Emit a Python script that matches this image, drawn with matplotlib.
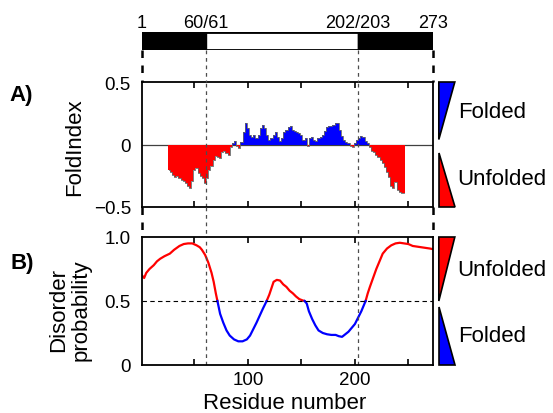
import numpy as np
import matplotlib
matplotlib.use("Agg")
import matplotlib.pyplot as plt
from matplotlib.patches import Polygon, Rectangle
from matplotlib.lines import Line2D
from matplotlib.transforms import blended_transform_factory

plt.rcParams['font.family'] = ['Liberation Sans', 'DejaVu Sans']

# domain boundaries (top bar)
domain_edges = [1, 60.5, 202.5, 273]
domain_labels = ["1", "60/61", "202/203", "273"]
domain_colors = ["black", "white", "black"]

# FoldIndex, every 2nd residue starting at residue 26
fold_start = 26
fold_vals = [
    -0.20, -0.22, -0.24, -0.26, -0.25, -0.27, -0.28, -0.29, -0.31, -0.33,
    -0.35, -0.29, -0.20, -0.19, -0.23, -0.25, -0.27, -0.31, -0.27, -0.20,
    -0.17, -0.12, -0.09, -0.10, -0.11, -0.06, -0.05, -0.07, -0.08, -0.02,
    0.01, 0.03, -0.01, -0.03, 0.02, 0.10, 0.17, 0.13, 0.08, 0.06,
    0.08, 0.05, 0.08, 0.13, 0.16, 0.13, 0.08, 0.04, 0.05, 0.08,
    0.10, 0.06, 0.03, 0.05, 0.10, 0.12, 0.14, 0.15, 0.12, 0.11,
    0.10, 0.09, 0.08, 0.04, 0.05, -0.01, 0.05, 0.06, 0.04, 0.03,
    0.05, 0.06, 0.08, 0.11, 0.14, 0.15, 0.15, 0.16, 0.17, 0.17,
    0.12, 0.07, 0.04, 0.02, 0.01, -0.01, -0.02, 0.01, 0.04, 0.05,
    0.07, 0.06, 0.03, 0.01, -0.02, -0.05, -0.06, -0.08, -0.10, -0.12,
    -0.15, -0.18, -0.22, -0.26, -0.33, -0.35, -0.30, -0.36, -0.38, -0.39,
    -0.39,
]

# disorder probability
dis_res = [1, 3, 5, 8, 12, 15, 18, 22, 27, 31, 36, 40, 44, 48, 52, 55, 57, 60,
           63, 66, 68, 70, 71.5, 74, 77, 80, 83, 87, 91, 95, 99, 102, 105, 108,
           111, 114, 117.5, 120, 122, 124, 127, 130, 133, 136, 139, 142, 145,
           148, 151, 153, 155, 157, 160, 163, 166, 170, 174, 178, 182, 185, 188,
           191, 194, 197, 200, 203, 206, 208, 210, 212, 214, 217, 220, 223, 226,
           230, 234, 238, 242, 246, 250, 254, 258, 262, 266, 270, 273]
dis_vals = [0.70, 0.68, 0.72, 0.75, 0.78, 0.81, 0.83, 0.85, 0.87, 0.90, 0.93,
            0.945, 0.95, 0.95, 0.935, 0.92, 0.90, 0.86, 0.80, 0.72, 0.65, 0.56,
            0.50, 0.40, 0.33, 0.27, 0.23, 0.20, 0.185, 0.185, 0.20, 0.23, 0.28,
            0.33, 0.385, 0.44, 0.50, 0.55, 0.60, 0.65, 0.665, 0.66, 0.63, 0.61,
            0.58, 0.56, 0.535, 0.515, 0.505, 0.50, 0.48, 0.42, 0.36, 0.31, 0.27,
            0.25, 0.24, 0.235, 0.235, 0.225, 0.22, 0.24, 0.26, 0.29, 0.32, 0.37,
            0.42, 0.46, 0.50, 0.56, 0.61, 0.68, 0.75, 0.81, 0.87, 0.91, 0.935,
            0.95, 0.955, 0.95, 0.945, 0.93, 0.925, 0.92, 0.915, 0.91, 0.905]

RED = "#ff0000"
BLUE = "#0000ff"

fig = plt.figure(figsize=(5.53, 4.14), dpi=100)
W, H = 553.0, 414.0
L, R = 142 / W, 433 / W

axbar = fig.add_axes([L, 1 - 51 / H, R - L, 18 / H])
axA = fig.add_axes([L, 1 - 208 / H, R - L, 125 / H])
axB = fig.add_axes([L, 1 - 366 / H, R - L, 128 / H])

xlim = (1, 273)

# top domain bar
for i, c in enumerate(domain_colors):
    axbar.add_patch(Rectangle((domain_edges[i], 0), domain_edges[i + 1] - domain_edges[i], 1,
                              facecolor=c, edgecolor="black", lw=1.0))
axbar.add_patch(Rectangle((domain_edges[0], 0), domain_edges[-1] - domain_edges[0], 1,
                          facecolor="none", edgecolor="black", lw=2.0))
axbar.set_xlim(xlim)
axbar.set_ylim(0, 1)
axbar.axis("off")
for x, lab in zip(domain_edges, domain_labels):
    axbar.text(x, 1.55, lab, ha="center", va="center", fontsize=13)

# panel A
fold_vals = np.array(fold_vals)
fold_res = fold_start + 2 * np.arange(len(fold_vals))
colors = [RED if v < 0 else BLUE for v in fold_vals]
axA.bar(fold_res, fold_vals, width=2, color=colors, linewidth=0)
axA.step(fold_res, fold_vals, where="mid", color="0.4", lw=0.6)
axA.axhline(0, color="0.25", lw=0.9, zorder=0.5)
axA.set_ylim(-0.5, 0.5)
axA.set_yticks([-0.5, 0, 0.5])
axA.set_yticklabels(["\u22120.5", "0", "0.5"])
axA.set_xticklabels([])

# panel B
dis_res = np.array(dis_res)
dis_vals = np.array(dis_vals)
axB.plot(dis_res, np.ma.masked_where(dis_vals < 0.5, dis_vals), color=RED, lw=1.6)
axB.plot(dis_res, np.ma.masked_where(dis_vals > 0.5, dis_vals), color=BLUE, lw=1.6)
axB.axhline(0.5, color="black", lw=0.8, ls=(0, (4, 3)))
axB.set_ylim(0, 1)
axB.set_yticks([0, 0.5, 1.0])
axB.set_yticklabels(["0", "0.5", "1.0"])
axB.set_xticks([50, 100, 150, 200, 250])
axB.set_xticklabels(["", "100", "", "200", ""])

for ax in (axA, axB):
    ax.set_xlim(xlim)
    ax.set_xticks([50, 100, 150, 200, 250])
    ax.tick_params(axis="x", direction="in", top=True, length=4, width=1.2,
                   labelsize=13.5, pad=4)
    ax.tick_params(axis="y", length=0, labelsize=13.5, pad=8)
    for sp in ax.spines.values():
        sp.set_linewidth(1.3)
    for x in (60.5, 202.5):
        ax.axvline(x, color="0.3", lw=0.9, ls=(0, (3, 3)))

# dashed connectors between bar and panels
tr = blended_transform_factory(axA.transData, fig.transFigure)
for x in domain_edges:
    thick = x in (1, 273)
    lw = 1.8 if thick else 0.9
    col = "black" if thick else "0.3"
    for y0, y1 in ((51, 83), (208, 238)):
        fig.add_artist(Line2D([x, x], [1 - y0 / H, 1 - y1 / H], transform=tr,
                              color=col, lw=lw, ls=(0, (3, 3))))

# wedges on the right
def wedge(ax, pts, color):
    ax.add_patch(Polygon(pts, closed=True, facecolor=color, edgecolor="black",
                         lw=1.2, transform=ax.transAxes, clip_on=False))

wedge(axA, [(1.02, 1.0), (1.075, 1.0), (1.02, 0.54)], BLUE)
wedge(axA, [(1.02, 0.43), (1.02, 0.0), (1.075, 0.0)], RED)
wedge(axB, [(1.02, 1.0), (1.075, 1.0), (1.02, 0.50)], RED)
wedge(axB, [(1.02, 0.45), (1.02, 0.0), (1.075, 0.0)], BLUE)
axA.text(1.085, 0.76, "Folded", transform=axA.transAxes, ha="left", va="center", fontsize=16)
axA.text(1.085, 0.23, "Unfolded", transform=axA.transAxes, ha="left", va="center", fontsize=16)
axB.text(1.085, 0.75, "Unfolded", transform=axB.transAxes, ha="left", va="center", fontsize=16)
axB.text(1.085, 0.23, "Folded", transform=axB.transAxes, ha="left", va="center", fontsize=16)

# labels
fig.text(75 / W, 1 - 147 / H, "FoldIndex", rotation=90, ha="center", va="center", fontsize=16)
fig.text(70 / W, 1 - 310 / H, "Disorder\nprobability", rotation=90, ha="center",
         va="center", fontsize=16, linespacing=1.05)
fig.text(21 / W, 1 - 95 / H, "A)", ha="center", va="center", fontsize=16, fontweight="bold")
fig.text(22 / W, 1 - 264 / H, "B)", ha="center", va="center", fontsize=16, fontweight="bold")
fig.text(285 / W, 1 - 404 / H, "Residue number", ha="center", va="center", fontsize=16)

fig.savefig("out.png", dpi=100)
